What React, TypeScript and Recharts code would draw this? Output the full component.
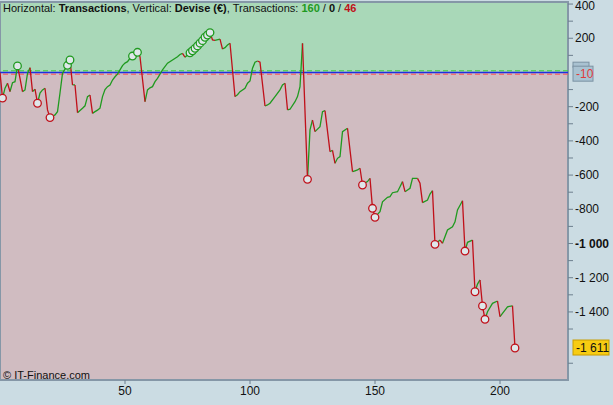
import React from 'react';
import {
  ComposedChart,
  Line,
  Scatter,
  XAxis,
  YAxis,
  CartesianGrid,
  ReferenceArea,
  ReferenceLine,
} from 'recharts';

// equity curve at its turning points
const tradeNo = [
  0, 1, 2, 3, 4, 5, 6, 7, 8, 9, 10, 11, 12, 13, 14, 15, 16, 17, 18, 19,
  20, 21, 22, 23, 24, 25, 26, 27, 28, 29, 30, 31, 32, 33, 34, 35, 36, 37, 38, 39,
  40, 41, 42, 43, 44, 45, 46, 47, 48, 49, 50, 51, 52, 53, 54, 55, 56, 58, 59, 60,
  61, 62, 63, 65, 67, 69, 71, 72, 73, 74, 75, 76, 77, 78, 79, 80, 81, 82, 83, 84,
  85, 86, 88, 89, 90, 91, 92, 94, 95, 96, 98, 99, 100, 101, 102, 103, 104, 106, 107, 108,
  110, 112, 113, 114, 115, 116, 118, 119, 120, 121, 123, 124, 125, 126, 128, 129, 130, 132, 133, 134,
  135, 136, 137, 139, 141, 142, 143, 144, 145, 146, 147, 148, 149, 150, 151, 152, 153, 155, 156, 157,
  159, 160, 161, 162, 164, 165, 167, 168, 169, 171, 172, 173, 174, 176, 177, 179, 181, 182, 183, 185,
  186, 187, 189, 190, 191, 192, 193, 194, 195, 197, 199, 200, 202, 203, 205, 206,
];
const equity = [
  0, -150, -92, -63, -112, -60, -54, 38, -34, -112, -102, -5, 28, -112, -98, -180, -120, -102, -92, -219,
  -264, -255, -248, -229, -120, -5, 20, 42, 73, -73, -73, -235, -222, -209, -195, -141, -132, -239, -229, -220,
  -209, -141, -100, -83, -73, -44, -25, -10, 15, 40, 55, 63, 83, 96, 105, 118, 92, -171, -102, -90,
  -83, -54, -34, 15, 54, 73, 92, 105, 112, 89, 102, 115, 127, 141, 155, 171, 186, 206, 219, 233,
  190, 188, 195, 137, 145, 160, 171, -141, -130, -112, -92, -63, -50, 25, 60, 67, 60, -196, -190, -180,
  -141, -102, -73, -63, -219, -215, -171, -141, -83, 170, -625, -336, -278, -346, -317, -229, -223, -463, -455, -531,
  -502, -492, -346, -326, -580, -575, -570, -560, -658, -645, -638, -619, -794, -847, -830, -814, -756, -730, -726, -703,
  -697, -668, -638, -697, -677, -619, -619, -648, -761, -746, -711, -691, -1005, -980, -999, -921, -902, -873, -804, -750,
  -1044, -993, -980, -1282, -1237, -1213, -1365, -1443, -1399, -1350, -1336, -1428, -1389, -1370, -1364, -1611,
];

// new highs (green rings) and new lows (red rings)
const highMarks = [7, 27, 28, 53, 55, 76, 77, 78, 79, 80, 81, 82, 83, 84];
const lowMarks = [1, 15, 20, 123, 145, 149, 150, 174, 186, 190, 193, 194, 206];

const xTicks = [50, 100, 150, 200];
const yLabels = [400, 200, -200, -400, -600, -800, -1000, -1200, -1400];
const yTickMarks = [
  400, 300, 200, 100, -100, -200, -300, -400, -500, -600, -700, -800, -900,
  -1000, -1100, -1200, -1300, -1400, -1500, -1700,
];
const gridY = [400, 200, -200, -400, -600, -800, -1000, -1200, -1400, -1600];
const upperBand = 10;
const lowerBand = -10;
const lastValue = -1611;
const wins = 160;
const even = 0;
const losses = 46;

const X_MAX = 227.2;
const Y_MIN = -1798;
const Y_MAX = 412;

const GREEN = '#1f9a1f';
const RED = '#c0101a';
const FONT = '"Liberation Sans", Arial, sans-serif';

// split into rising / falling runs so each piece gets its own colour
const rows: { t: number; up: number | null; down: number | null }[] = [];
{
  let dir = '';
  let start = 0;
  const flush = (from: number, to: number, d: string) => {
    for (let k = from; k <= to; k++) {
      rows.push({
        t: tradeNo[k],
        up: d === 'up' ? equity[k] : null,
        down: d === 'down' ? equity[k] : null,
      });
    }
  };
  for (let i = 0; i < equity.length - 1; i++) {
    const d = equity[i + 1] >= equity[i] ? 'up' : 'down';
    if (dir && d !== dir) {
      flush(start, i, dir);
      start = i;
    }
    dir = d;
  }
  flush(start, equity.length - 1, dir);
}

const markOf = (t: number) => ({ t, v: equity[tradeNo.indexOf(t)] });
const highData = highMarks.map(markOf);
const lowData = lowMarks.map(markOf);

const fmt = (v: number) => {
  const s = Math.abs(v).toString().replace(/\B(?=(\d{3})+(?!\d))/g, ' ');
  return (v < 0 ? '-' : '') + s;
};

const Ring = ({ cx, cy, color }: any) => (
  <circle cx={cx} cy={cy} r={3.8} fill="#dfe7ea" stroke={color} strokeWidth={1.3} />
);

const RightTick = ({ x, y, payload }: any) => {
  const v = payload.value;
  const show = yLabels.includes(v);
  return (
    <g>
      <line x1={x} x2={x + 5} y1={y} y2={y} stroke="#6d7f8e" />
      {show && (
        <text
          x={x + 7}
          y={Math.max(y + 4, 10)}
          fontSize={12}
          fontFamily={FONT}
          fontWeight={v === -1000 ? 'bold' : 'normal'}
          fill="#111"
        >
          {fmt(v)}
        </text>
      )}
    </g>
  );
};

const BottomTick = ({ x, y, payload }: any) => (
  <g>
    <line x1={x} x2={x} y1={y} y2={y + 4} stroke="#6d7f8e" />
    <text x={x} y={y + 15} textAnchor="middle" fontSize={12} fontFamily={FONT} fill="#111">
      {payload.value}
    </text>
  </g>
);

const AvgTag = ({ viewBox }: any) => {
  const x = viewBox.x + viewBox.width;
  const y = viewBox.y;
  return (
    <g>
      <rect x={x + 5} y={y - 12} width={16} height={5} fill="#a9c2d1" stroke="#7b92a3" />
      <rect x={x + 5} y={y - 8} width={20} height={15} fill="#a9c2d1" stroke="#7b92a3" />
      <text x={x + 8} y={y + 4} fontSize={12} fontFamily={FONT} fill="#e03a3a">
        {lowerBand}
      </text>
    </g>
  );
};

const LastTag = ({ viewBox }: any) => {
  const x = viewBox.x + viewBox.width;
  const y = viewBox.y;
  return (
    <g>
      <rect x={x + 5} y={y - 8} width={36} height={15} fill="#f7cc12" stroke="#c99d00" />
      <text x={x + 8} y={y + 4} fontSize={12} fontFamily={FONT} fill="#111">
        {fmt(lastValue)}
      </text>
    </g>
  );
};

const overlayText: React.CSSProperties = {
  position: 'absolute',
  left: 3,
  fontSize: 11,
  fontFamily: FONT,
  color: '#111',
  whiteSpace: 'nowrap',
  lineHeight: '13px',
};

export default function App() {
  return (
    <div style={{ position: 'absolute', left: 0, top: 0, width: 613, height: 405, background: '#cbdce3' }}>
      <ComposedChart
        width={613}
        height={405}
        data={rows}
        margin={{ top: 2, right: 0, bottom: 0, left: 0 }}
      >
        <ReferenceArea y1={0} y2={Y_MAX} x1={0} x2={X_MAX} fill="#a9d8b8" fillOpacity={1} stroke="none" />
        <ReferenceArea y1={Y_MIN} y2={0} x1={0} x2={X_MAX} fill="#d0bcc1" fillOpacity={1} stroke="none" />
        <CartesianGrid
          stroke="#5e5e5e"
          strokeOpacity={0.33}
          horizontalValues={gridY}
          verticalValues={xTicks}
        />
        <XAxis
          dataKey="t"
          type="number"
          domain={[0, X_MAX]}
          allowDataOverflow
          ticks={xTicks}
          interval={0}
          axisLine={false}
          tickLine={false}
          tickSize={0}
          tickMargin={0}
          height={25}
          tick={<BottomTick />}
        />
        <YAxis
          orientation="right"
          type="number"
          domain={[Y_MIN, Y_MAX]}
          allowDataOverflow
          ticks={yTickMarks}
          interval={0}
          axisLine={false}
          tickLine={false}
          tickSize={0}
          tickMargin={0}
          width={45}
          tick={<RightTick />}
        />
        <ReferenceLine y={upperBand} stroke="#3fcf3f" strokeDasharray="5 3" />
        <ReferenceLine y={lowerBand} stroke="#ff5050" strokeDasharray="5 3" label={<AvgTag />} />
        <ReferenceLine y={0} stroke="#1f2fe0" strokeWidth={1.5} />
        <ReferenceLine y={lastValue} stroke="none" label={<LastTag />} />
        <Line
          dataKey="up"
          type="linear"
          stroke={GREEN}
          strokeWidth={1.3}
          dot={false}
          activeDot={false}
          connectNulls={false}
          isAnimationActive={false}
        />
        <Line
          dataKey="down"
          type="linear"
          stroke={RED}
          strokeWidth={1.3}
          dot={false}
          activeDot={false}
          connectNulls={false}
          isAnimationActive={false}
        />
        <Scatter data={highData} dataKey="v" shape={<Ring color={GREEN} />} isAnimationActive={false} />
        <Scatter data={lowData} dataKey="v" shape={<Ring color={RED} />} isAnimationActive={false} />
        <ReferenceArea
          x1={0}
          x2={X_MAX}
          y1={Y_MIN}
          y2={Y_MAX}
          fill="none"
          stroke="#8597a7"
          strokeWidth={2}
        />
      </ComposedChart>
      <div style={{ ...overlayText, top: 2 }}>
        Horizontal: <b>Transactions</b>, Vertical: <b>Devise (€)</b>, Transactions:{' '}
        <b style={{ color: GREEN }}>{wins}</b> / <b>{even}</b> / <b style={{ color: RED }}>{losses}</b>
      </div>
      <div style={{ ...overlayText, top: 369 }}>© IT-Finance.com</div>
    </div>
  );
}
